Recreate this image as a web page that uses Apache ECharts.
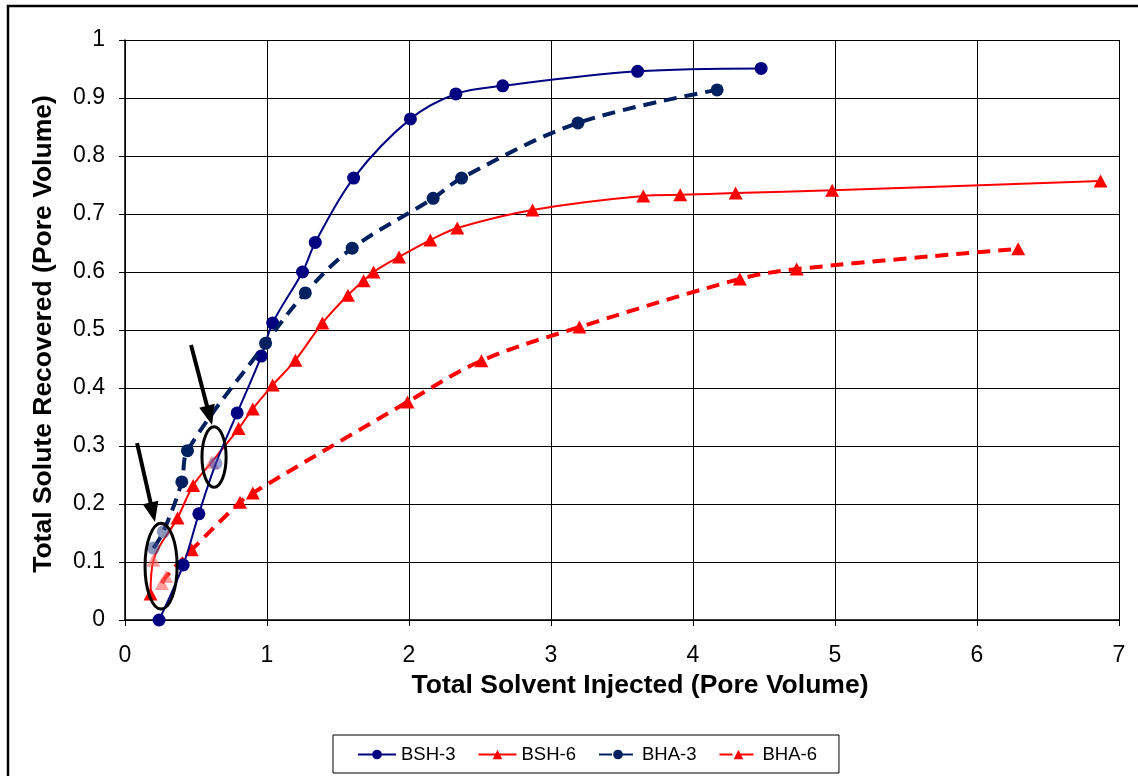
<!DOCTYPE html>
<html>
<head>
<meta charset="utf-8">
<script src="https://cdn.jsdelivr.net/npm/echarts@6/dist/echarts.min.js"></script>
<style>
html,body{margin:0;padding:0;background:#fff;}
#chart{width:1138px;height:776px;}
</style>
</head>
<body>
<div id="chart"></div>
<script>
// ---- data ----
const seriesNames = ['BSH-3', 'BSH-6', 'BHA-3', 'BHA-6'];

const bsh3X = [0.24, 0.41, 0.52, 0.64, 0.79, 0.96, 1.04, 1.25, 1.34, 1.61, 2.01, 2.33, 2.66, 3.61, 4.48];
const bsh3Y = [0.0, 0.095, 0.183, 0.27, 0.357, 0.455, 0.512, 0.6, 0.651, 0.762, 0.864, 0.907, 0.921, 0.946, 0.951];
const bsh3Hatched = [3];

const bsh6X = [0.18, 0.2, 0.37, 0.48, 0.61, 0.8, 0.9, 1.04, 1.2, 1.39, 1.57, 1.68, 1.75, 1.93, 2.15, 2.34, 2.87, 3.65, 3.91, 4.3, 4.98, 6.87];
const bsh6Y = [0.045, 0.103, 0.176, 0.232, 0.272, 0.33, 0.364, 0.405, 0.448, 0.512, 0.56, 0.585, 0.6, 0.626, 0.655, 0.676, 0.707, 0.731, 0.733, 0.736, 0.741, 0.757];
const bsh6Hatched = [1, 4];

const bha3X = [0.2, 0.27, 0.4, 0.44, 0.99, 1.27, 1.6, 2.17, 2.37, 3.19, 4.17];
const bha3Y = [0.124, 0.152, 0.238, 0.292, 0.477, 0.564, 0.641, 0.727, 0.762, 0.857, 0.914];
const bha3Hatched = [0, 1];

const bha6X = [0.26, 0.29, 0.47, 0.81, 0.9, 1.99, 2.51, 3.2, 4.33, 4.73, 6.29];
const bha6Y = [0.063, 0.075, 0.121, 0.203, 0.219, 0.376, 0.447, 0.505, 0.588, 0.605, 0.64];
const bha6Hatched = [0, 1];

const xTicks = [0, 1, 2, 3, 4, 5, 6, 7];
const yTicks = [0, 0.1, 0.2, 0.3, 0.4, 0.5, 0.6, 0.7, 0.8, 0.9, 1];

// annotation anchors (data coordinates)
const ellipses = [
  {cx: 0.254, cy: 0.093, rx: 0.113, ry: 0.074},
  {cx: 0.627, cy: 0.281, rx: 0.085, ry: 0.052}
];
const arrows = [
  {from: [0.085, 0.305], to: [0.211, 0.169]},
  {from: [0.465, 0.474], to: [0.613, 0.336]}
];

// ---- chart ----
const FONT = '"Liberation Sans", Arial, sans-serif';
const chart = echarts.init(document.getElementById('chart'), null, {renderer: 'canvas'});

function pts(xs, ys, hatched, hatchColor) {
  return xs.map((x, i) => {
    const d = {value: [x, ys[i]]};
    if (hatched.indexOf(i) >= 0) d.itemStyle = {color: hatchColor};
    return d;
  });
}

const series = [
  {
    name: 'BSH-3', type: 'line', data: pts(bsh3X, bsh3Y, bsh3Hatched, 'rgba(70,80,170,0.55)'),
    smooth: 0.35, symbol: 'circle', symbolSize: 13,
    lineStyle: {color: '#000080', width: 2}, itemStyle: {color: '#000080'}, z: 4
  },
  {
    name: 'BSH-6', type: 'line', data: pts(bsh6X, bsh6Y, bsh6Hatched, 'rgba(255,90,90,0.6)'),
    smooth: 0.35, symbol: 'triangle', symbolSize: [14, 13],
    lineStyle: {color: '#FF0000', width: 2}, itemStyle: {color: '#FF0000'}, z: 3
  },
  {
    name: 'BHA-3', type: 'line', data: pts(bha3X, bha3Y, bha3Hatched, 'rgba(60,80,140,0.6)'),
    smooth: 0.35, symbol: 'circle', symbolSize: 13,
    lineStyle: {color: '#002060', width: 4, type: [13, 8]}, itemStyle: {color: '#002060'}, z: 5
  },
  {
    name: 'BHA-6', type: 'line', data: pts(bha6X, bha6Y, bha6Hatched, 'rgba(255,90,90,0.6)'),
    smooth: 0.35, symbol: 'triangle', symbolSize: [14, 13],
    lineStyle: {color: '#FF0000', width: 4, type: [13, 8]}, itemStyle: {color: '#FF0000'}, z: 3
  }
];

const option = {
  animation: false,
  backgroundColor: '#fff',
  grid: {left: 125, right: 19, top: 40, bottom: 156, containLabel: false},
  xAxis: {
    type: 'value', min: xTicks[0], max: xTicks[xTicks.length - 1], interval: 1,
    name: 'Total Solvent Injected (Pore Volume)', nameLocation: 'middle', nameGap: 47,
    nameTextStyle: {fontFamily: FONT, fontSize: 26.5, fontWeight: 'bold', color: '#000', padding: [0, 0, 0, 36]},
    axisLine: {show: true, onZero: false, lineStyle: {color: '#000', width: 1.5}},
    axisTick: {show: true, inside: false, length: 6, lineStyle: {color: '#000'}},
    axisLabel: {fontFamily: FONT, fontSize: 23, color: '#000', margin: 24},
    splitLine: {show: true, lineStyle: {color: '#000', width: 1}}
  },
  yAxis: {
    type: 'value', min: yTicks[0], max: yTicks[yTicks.length - 1], interval: 0.1,
    name: 'Total Solute Recovered (Pore Volume)', nameLocation: 'middle', nameGap: 68, nameRotate: 90,
    nameTextStyle: {fontFamily: FONT, fontSize: 26.5, fontWeight: 'bold', color: '#000', padding: [0, 8, 0, 0]},
    axisLine: {show: true, lineStyle: {color: '#000', width: 1.5}},
    axisTick: {show: true, inside: false, length: 6, lineStyle: {color: '#000'}},
    axisLabel: {fontFamily: FONT, fontSize: 23, color: '#000', margin: 20,
      formatter: v => String(Math.round(v * 10) / 10)},
    splitLine: {show: true, lineStyle: {color: '#000', width: 1}}
  },
  legend: {
    data: seriesNames, left: 333, top: 735, orient: 'horizontal',
    itemWidth: 38, itemHeight: 12, itemGap: 22,
    padding: [10, 22, 9, 24], borderColor: '#000', borderWidth: 1,
    textStyle: {fontFamily: FONT, fontSize: 18.5, color: '#000'}
  },
  series: series
};
chart.setOption(option);

// annotations positioned through the chart's own scales
function px(p) { return chart.convertToPixel({gridIndex: 0}, p); }
const graphics = [];
graphics.push({
  type: 'rect', silent: true, z: 100,
  shape: {x: 8, y: 6, width: 1150, height: 800},
  style: {fill: 'none', stroke: '#000', lineWidth: 2.5}
});
ellipses.forEach(e => {
  const c = px([e.cx, e.cy]);
  const r1 = px([e.cx + e.rx, e.cy]);
  const r2 = px([e.cx, e.cy + e.ry]);
  graphics.push({
    type: 'ellipse', silent: true, z: 100,
    shape: {cx: c[0], cy: c[1], rx: Math.abs(r1[0] - c[0]), ry: Math.abs(r2[1] - c[1])},
    style: {fill: 'none', stroke: '#000', lineWidth: 3}
  });
});
arrows.forEach(a => {
  const p0 = px(a.from), p1 = px(a.to);
  const dx = p1[0] - p0[0], dy = p1[1] - p0[1];
  const L = Math.sqrt(dx * dx + dy * dy);
  const ux = dx / L, uy = dy / L;
  const headLen = 20, headW = 8;
  const bx = p1[0] - ux * headLen, by = p1[1] - uy * headLen;
  graphics.push({
    type: 'line', silent: true, z: 100,
    shape: {x1: p0[0], y1: p0[1], x2: bx + ux * 2, y2: by + uy * 2},
    style: {stroke: '#000', lineWidth: 4}
  });
  graphics.push({
    type: 'polygon', silent: true, z: 100,
    shape: {points: [[p1[0], p1[1]], [bx - uy * headW, by + ux * headW], [bx + uy * headW, by - ux * headW]]},
    style: {fill: '#000'}
  });
});
chart.setOption({graphic: graphics});
</script>
</body>
</html>
